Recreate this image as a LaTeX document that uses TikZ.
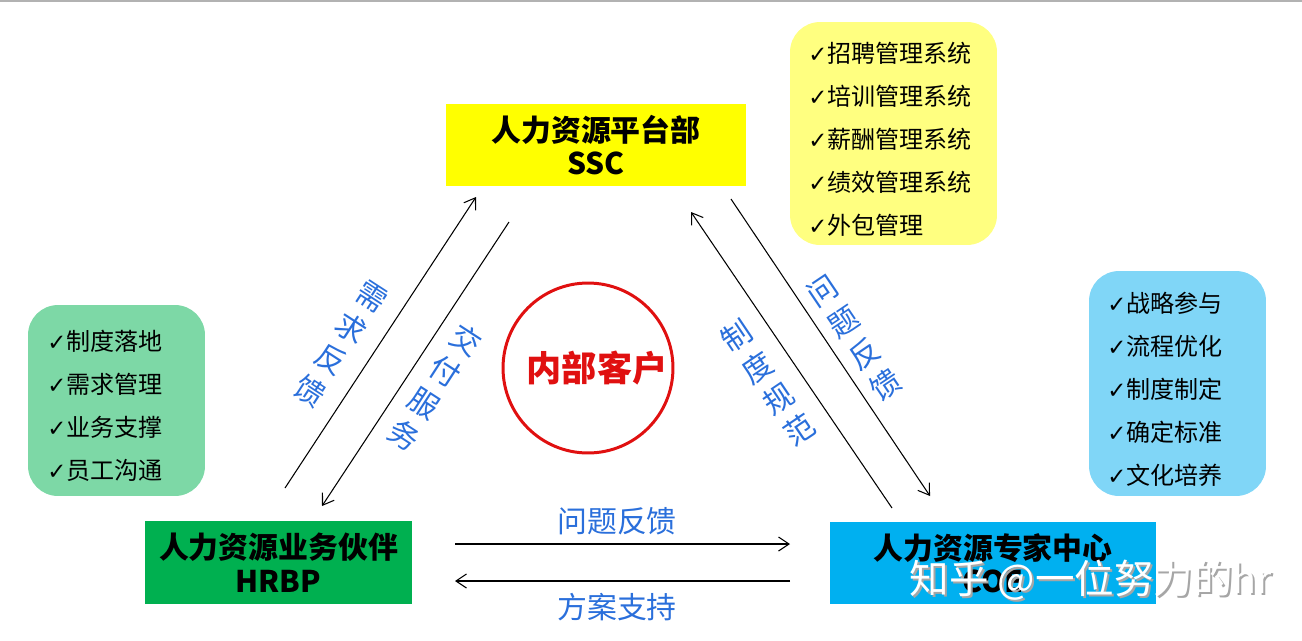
\documentclass[tikz,border=0pt]{standalone}
\usepackage{fontspec}
\setmainfont{Noto Sans CJK SC}
\newfontfamily\symfont{DejaVu Sans}
\usetikzlibrary{arrows.meta}

\definecolor{sscyellow}{HTML}{FFFF00}
\definecolor{hrbpgreen}{HTML}{00B050}
\definecolor{coeblue}{HTML}{00B0F0}
\definecolor{listyellow}{HTML}{FFFF80}
\definecolor{listgreen}{HTML}{7DD8A6}
\definecolor{listblue}{HTML}{80D6F7}
\definecolor{labelblue}{HTML}{2A6FDB}
\definecolor{ringred}{HTML}{E01010}

\newcommand{\ck}{{\symfont\fontsize{13}{13}\selectfont ✓}}

\begin{document}
\begin{tikzpicture}[x=0.02cm, y=-0.02cm,
  unitbox/.style={inner sep=0pt, align=center, font=\fontsize{17}{19}\selectfont\bfseries},
  listbox/.style={rounded corners=0.6cm, inner sep=0pt},
  listtext/.style={inner sep=0pt, align=left, font=\fontsize{13.7}{24.5}\selectfont},
  flow/.style={line width=0.6pt, -{Straight Barb[length=6pt, width=8pt]}},
  flowlabel/.style={text=labelblue, align=center, inner sep=0pt, font=\fontsize{17}{21.5}\selectfont}]
\useasboundingbox (0,0) rectangle (1302,640);
\draw[gray!60, line width=1.5pt] (0,0.5) -- (1302,0.5);

% three units
\node[unitbox, fill=sscyellow, minimum width=6cm, minimum height=1.64cm] (ssc) at (596,145) {人力资源平台部\\SSC};
\node[unitbox, fill=hrbpgreen, minimum width=5.34cm, minimum height=1.66cm] (hrbp) at (278.5,562.5) {人力资源业务伙伴\\HRBP};
\node[unitbox, fill=coeblue, minimum width=6.52cm, minimum height=1.64cm] (coe) at (993,563) {人力资源专家中心\\COE};

% task lists
\node[listbox, fill=listyellow, minimum width=4.14cm, minimum height=4.46cm] (ssclist) at (893.5,133.5) {};
\node[listtext, anchor=west] (ssctasks) at (808,139)
  {\ck 招聘管理系统\\\ck 培训管理系统\\\ck 薪酬管理系统\\\ck 绩效管理系统\\\ck 外包管理};
\node[listbox, fill=listgreen, minimum width=3.54cm, minimum height=3.82cm] (hrbplist) at (116.5,400.5) {};
\node[listtext, anchor=west] (hrbptasks) at (47,406)
  {\ck 制度落地\\\ck 需求管理\\\ck 业务支撑\\\ck 员工沟通};
\node[listbox, fill=listblue, minimum width=3.54cm, minimum height=4.5cm] (coelist) at (1177.5,383.5) {};
\node[listtext, anchor=west] (coetasks) at (1107,389)
  {\ck 战略参与\\\ck 流程优化\\\ck 制度制定\\\ck 确定标准\\\ck 文化培养};

% centre
\node[draw=ringred, line width=1.7pt, circle, minimum size=3.4cm] (client) at (588,368) {};
\node[text=ringred, inner sep=0pt, font=\fontsize{20}{22}\selectfont\bfseries] (clientname) at (597,368) {内部客户};

% connector ends
\coordinate (a1) at (285,488);
\coordinate (a2) at (476,197);
\coordinate (b1) at (509,222);
\coordinate (b2) at (322,506);
\coordinate (c1) at (892,508);
\coordinate (c2) at (691,212);
\coordinate (d1) at (731,199);
\coordinate (d2) at (930,496);
\coordinate (e1) at (455,544);
\coordinate (e2) at (790,544);
\coordinate (f1) at (790,581);
\coordinate (f2) at (455,581);

\draw[flow] (a1) -- (a2);
\draw[flow] (b1) -- (b2);
\draw[flow] (c1) -- (c2);
\draw[flow] (d1) -- (d2);
\draw[flow] (e1) -- (e2);
\draw[flow] (f1) -- (f2);

\node[flowlabel, rotate=-33] (ask) at (341,344) {需\\求\\反\\馈};
\node[flowlabel, rotate=-33] (deliver) at (435,387) {交\\付\\服\\务};
\node[flowlabel, rotate=34] (policy) at (768,383) {制\\度\\规\\范};
\node[flowlabel, rotate=34] (issue) at (854,338) {问\\题\\反\\馈};
\node[flowlabel] (issue2) at (617,521) {问题反馈};
\node[flowlabel] (plan) at (617,607) {方案支持};

% watermark
\node[text=gray!70, font=\fontsize{22.5}{24}\selectfont] (wmshade) at (1093,582) {知乎 @一位努力的hr};
\node[text=white, font=\fontsize{22.5}{24}\selectfont] (wm) at (1091,580) {知乎 @一位努力的hr};
\end{tikzpicture}
\end{document}
